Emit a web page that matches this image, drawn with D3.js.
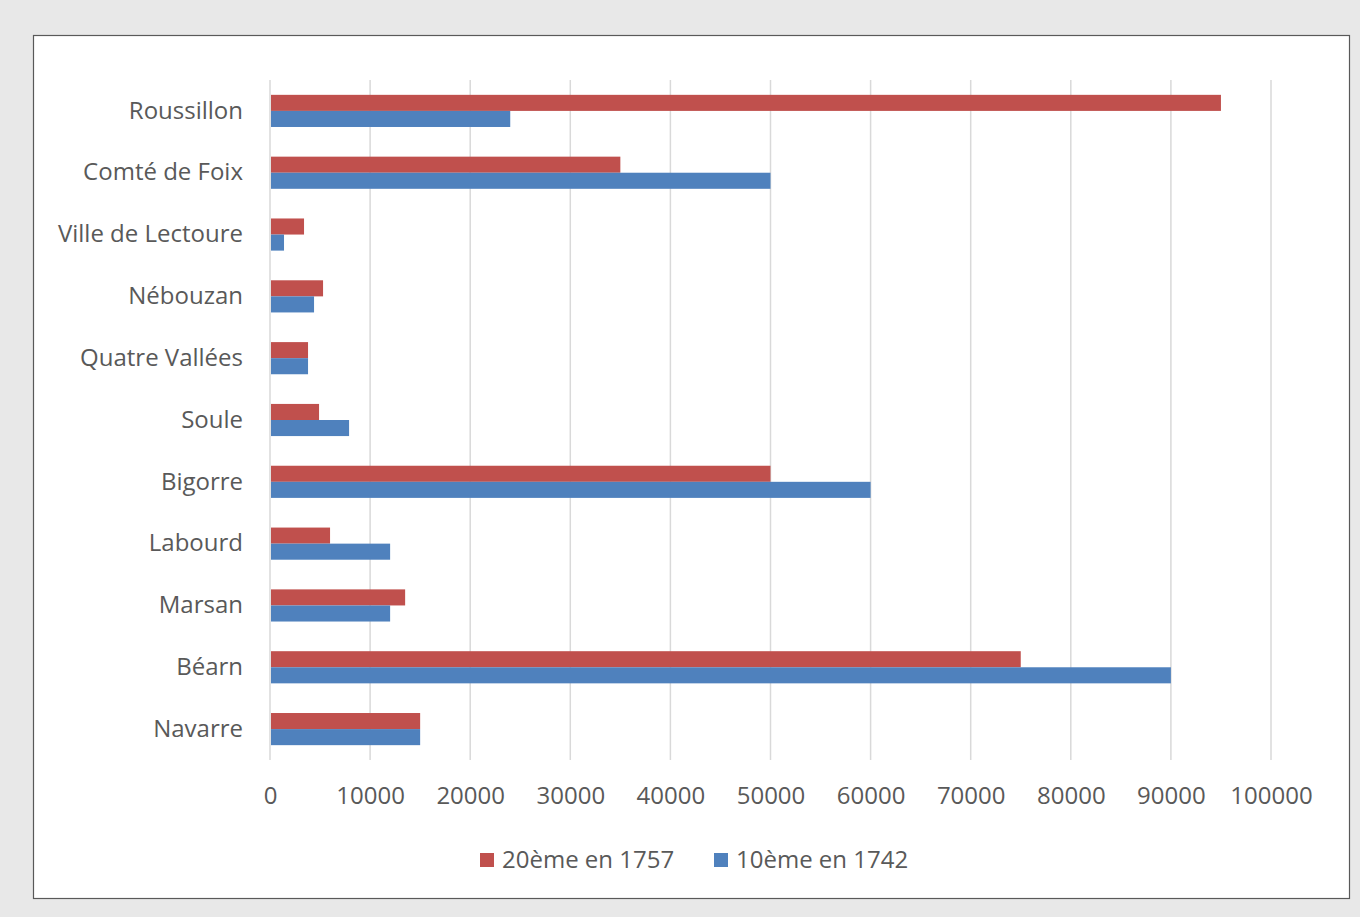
<!DOCTYPE html>
<html><head><meta charset="utf-8">
<script src="https://cdn.jsdelivr.net/npm/d3@7"></script>
<style>body{margin:0;background:#e8e8e8;}svg{display:block;}</style>
</head><body>
<svg id="c" width="1360" height="917"></svg>
<script>
const categories = ["Roussillon","Comté de Foix","Ville de Lectoure","Nébouzan","Quatre Vallées","Soule","Bigorre","Labourd","Marsan","Béarn","Navarre"];
const series1Name = "20ème en 1757";
const series2Name = "10ème en 1742";
const series1 = [95000,35000,3400,5300,3800,4900,50000,6000,13500,75000,15000];
const series2 = [24000,50000,1400,4400,3800,7900,60000,12000,12000,90000,15000];
const xTicks = [0,10000,20000,30000,40000,50000,60000,70000,80000,90000,100000];

const svg = d3.select("#c");
const font = "'Open Sans', sans-serif";
const fs = 24;
const txt = "#595959";
const red = "#c0504d", blue = "#4f81bd";

svg.append("rect").attr("width",1360).attr("height",917).attr("fill","#e8e8e8");
svg.append("rect").attr("x",33.5).attr("y",35.5).attr("width",1316).attr("height",863)
  .attr("fill","#fff").attr("stroke","#595959").attr("stroke-width",1.2);

const x = d3.scaleLinear().domain([0,100000]).range([270,1271]);
const y = d3.scaleBand().domain(categories).range([80,760]).paddingInner(0.48).paddingOuter(0.24);
const ySub = d3.scaleBand().domain(["s1","s2"]).range([0,y.bandwidth()]);

// gridlines
svg.append("g").selectAll("line").data(xTicks).join("line")
  .attr("x1",d=>x(d)).attr("x2",d=>x(d)).attr("y1",80).attr("y2",760)
  .attr("stroke","#d9d9d9").attr("stroke-width",1.5);

// bars
const rows = categories.map((c,i)=>({c, v1:series1[i], v2:series2[i]}));
const g = svg.append("g");
g.selectAll(".b1").data(rows).join("rect")
  .attr("x",x(0)+1).attr("y",d=>y(d.c)+ySub("s1"))
  .attr("width",d=>x(d.v1)-x(0)-1).attr("height",ySub.bandwidth()).attr("fill",red);
g.selectAll(".b2").data(rows).join("rect")
  .attr("x",x(0)+1).attr("y",d=>y(d.c)+ySub("s2"))
  .attr("width",d=>x(d.v2)-x(0)-1).attr("height",ySub.bandwidth()).attr("fill",blue);

// axes
const xAxis = d3.axisBottom(x).tickValues(xTicks).tickSize(0).tickPadding(0).tickFormat(d=>String(d));
const xa = svg.append("g").attr("transform","translate(0,787)").call(xAxis);
xa.select(".domain").remove();
xa.selectAll("text").attr("font-family",font).attr("font-size",fs).attr("fill",txt).attr("dy","0.71em");

const yAxis = d3.axisLeft(y).tickSize(0).tickPadding(0);
const ya = svg.append("g").attr("transform","translate(243,0)").call(yAxis);
ya.select(".domain").remove();
ya.selectAll("text").attr("font-family",font).attr("font-size",fs).attr("fill",txt).attr("dy","0.32em");

// legend
const leg = [{n:series1Name,c:red,x:480},{n:series2Name,c:blue,x:714}];
const lg = svg.append("g");
lg.selectAll("rect").data(leg).join("rect").attr("x",d=>d.x).attr("y",853).attr("width",14).attr("height",14).attr("fill",d=>d.c);
lg.selectAll("text").data(leg).join("text").attr("x",d=>d.x+22).attr("y",860).attr("dy","0.35em")
  .attr("font-family",font).attr("font-size",fs).attr("fill",txt).text(d=>d.n);
</script>
</body></html>
